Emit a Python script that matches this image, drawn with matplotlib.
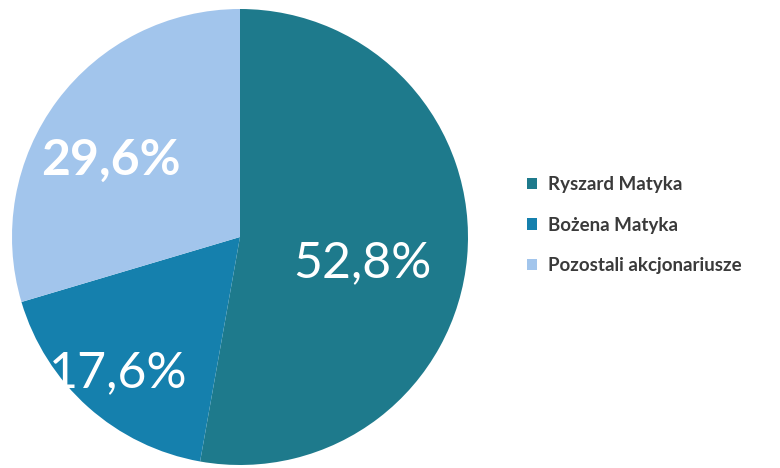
import numpy as np
import matplotlib.pyplot as plt

plt.rcParams["font.family"] = ["Lato", "DejaVu Sans"]

# dane
labels = ["Ryszard Matyka", "Bożena Matyka", "Pozostali akcjonariusze"]
values = [52.8, 17.6, 29.6]
pct_text = ["52,8%", "17,6%", "29,6%"]
colors = ["#1e7a8c", "#1580ad", "#a2c5ec"]
label_dist = [0.55, 0.80, 0.66]
label_rot = [-7, 0, 6]

fig = plt.figure(figsize=(7.8, 4.68), dpi=100)
ax = fig.add_axes([12 / 780, 3 / 468, 456 / 780, 456 / 468])

wedges, _ = ax.pie(values, colors=colors, startangle=90, counterclock=False,
                   radius=1, wedgeprops=dict(linewidth=0))
ax.set_xlim(-1, 1)
ax.set_ylim(-1, 1)
ax.set_aspect("equal")
ax.axis("off")

# etykiety procentowe
for i, w in enumerate(wedges):
    ang = np.deg2rad((w.theta1 + w.theta2) / 2 + label_rot[i])
    x = label_dist[i] * np.cos(ang)
    y = label_dist[i] * np.sin(ang)
    ax.text(x, y, pct_text[i], ha="center", va="center", color="white",
            fontsize=36, fontweight="bold" if i == 2 else "normal")

leg = fig.legend(wedges, labels, loc="center left",
                 bbox_to_anchor=(510 / 780, 243 / 468), frameon=False,
                 handlelength=0.55, handleheight=0.55, handletextpad=0.6,
                 labelspacing=1.25, prop=dict(size=13.5, weight="bold"))
for t in leg.get_texts():
    t.set_color("#3a3a3a")

plt.savefig("out.png", dpi=100)
